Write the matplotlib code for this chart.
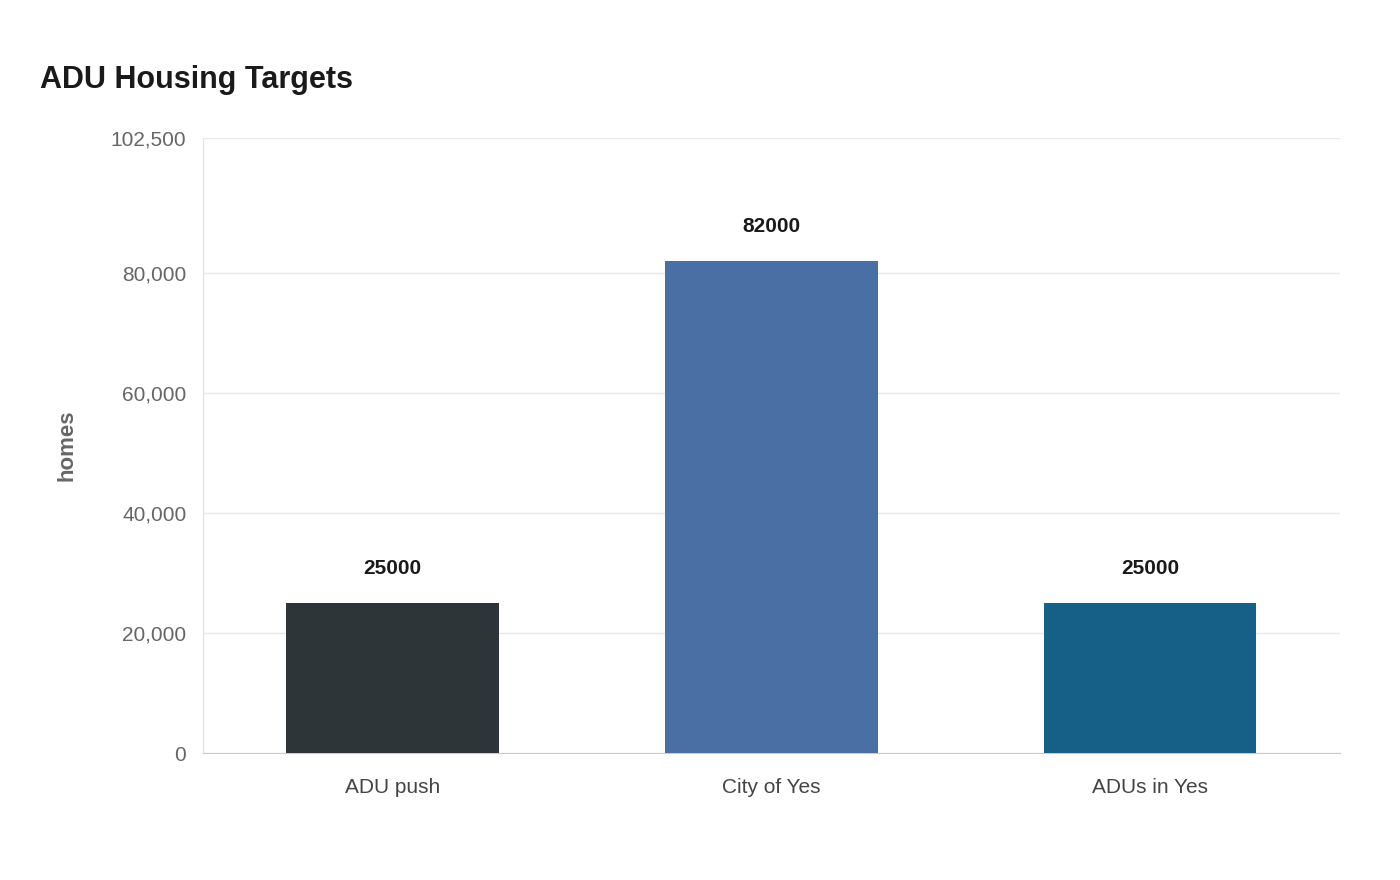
import matplotlib
matplotlib.use("Agg")
import matplotlib.pyplot as plt

plt.rcParams["font.family"] = ["Liberation Sans", "DejaVu Sans"]

categories = ["ADU push", "City of Yes", "ADUs in Yes"]
values = [25000, 82000, 25000]
colors = ["#2e3538", "#4a6fa5", "#166088"]
yticks = [0, 20000, 40000, 60000, 80000, 102500]

fig = plt.figure(figsize=(14, 8.8), dpi=100, facecolor="white")
ax = fig.add_axes([0.145, 0.1443, 0.812, 0.6989])

x = range(len(categories))
ax.bar(x, values, width=0.56, color=colors, zorder=3)
for i, v in enumerate(values):
    ax.text(i, v + 4200, str(v), ha="center", va="bottom", fontsize=15,
            fontweight="bold", color="#1a1a1a")

ax.set_xlim(-0.5, 2.5)
ax.set_ylim(0, 102500)
ax.set_yticks(yticks)
ax.set_yticklabels([f"{t:,}" for t in yticks], fontsize=15, color="#666666")
ax.set_xticks(list(x))
ax.set_xticklabels(categories, fontsize=15, color="#444444")
ax.tick_params(axis="both", length=0, pad=12)
ax.tick_params(axis="x", pad=18)
ax.grid(axis="y", color="#e8e8e8", linewidth=1, zorder=0)
for s in ["top", "right"]:
    ax.spines[s].set_visible(False)
ax.spines["left"].set_color("#e0e0e0")
ax.spines["bottom"].set_color("#cccccc")
ax.set_ylabel("homes", fontsize=16, fontweight="bold", color="#666666", labelpad=24)

fig.text(40 / 1400, 1 - 80 / 880, "ADU Housing Targets", fontsize=22,
         fontweight="bold", color="#1a1a1a", va="center")

fig.savefig("out.png", dpi=100, facecolor="white")
